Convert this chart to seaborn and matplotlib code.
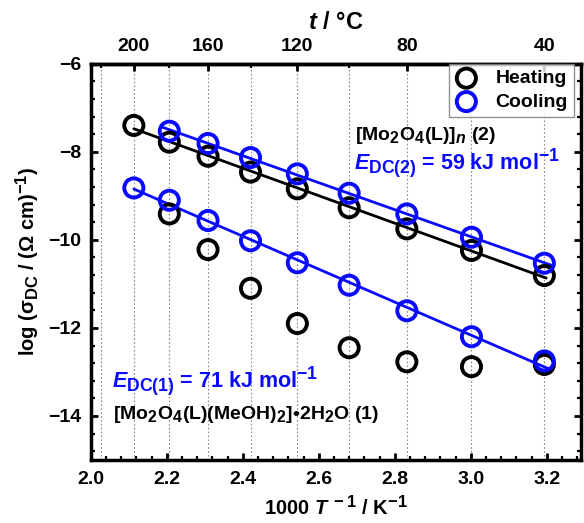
import numpy as np
import pandas as pd
import matplotlib
matplotlib.use("Agg")
import matplotlib.pyplot as plt
import matplotlib._mathtext as _mt
import seaborn as sns
from matplotlib.ticker import MultipleLocator, FixedLocator, NullFormatter

sns.set_style("ticks")
plt.rcParams['font.family'] = ['Liberation Sans', 'DejaVu Sans']
plt.rcParams['font.weight'] = 'bold'
plt.rcParams['axes.labelweight'] = 'bold'
for key in ['text.color', 'axes.labelcolor', 'xtick.color', 'ytick.color',
            'axes.edgecolor', 'xtick.labelcolor', 'ytick.labelcolor']:
    plt.rcParams[key] = 'black'
plt.rcParams['mathtext.fontset'] = 'custom'
plt.rcParams['mathtext.rm'] = 'Liberation Sans:bold'
plt.rcParams['mathtext.bf'] = 'Liberation Sans:bold'
plt.rcParams['mathtext.it'] = 'Liberation Sans:bold:italic'
plt.rcParams['mathtext.sf'] = 'Liberation Sans:bold'
plt.rcParams['mathtext.default'] = 'rm'
_mt.SHRINK_FACTOR = 0.82

# ---- data ----
temps_C = [200, 180, 160, 140, 120, 100, 80, 60, 40]
grid_temps_C = [220, 200, 180, 160, 140, 120, 100, 80, 60, 40]

# first heating (compound 1, transforms at 200 C)
heating1 = [-7.40, -9.41, -10.22, -11.10, -11.90, -12.45, -12.77, -12.88, -12.83]
# second heating (compound 2), 180 .. 40 C
heating2 = [-7.78, -8.10, -8.46, -8.84, -9.27, -9.75, -10.24, -10.81]
# cooling of compound 2, 180 .. 40 C
cooling2 = [-7.53, -7.81, -8.13, -8.50, -8.94, -9.41, -9.94, -10.53]
# cooling of compound 1, 200 .. 40 C
cooling1 = [-8.82, -9.10, -9.56, -10.02, -10.52, -11.03, -11.61, -12.20, -12.75]

x_ticks_top = [200, 160, 120, 80, 40]
x_ticks_top_minor = [220, 180, 140, 100, 60]


def inv_T(t):
    return 1000.0 / (np.asarray(t, dtype=float) + 273.15)


def to_C(x):
    x = np.asarray(x, dtype=float)
    with np.errstate(divide='ignore'):
        return 1000.0 / x - 273.15


x_all = inv_T(temps_C)
x_sub = inv_T(temps_C[1:])

df_h1 = pd.DataFrame({'x': x_all, 'y': heating1})
df_h2 = pd.DataFrame({'x': x_sub, 'y': heating2})
df_c2 = pd.DataFrame({'x': x_sub, 'y': cooling2})
df_c1 = pd.DataFrame({'x': x_all, 'y': cooling1})

BLUE = '#0a0aff'

fig = plt.figure(figsize=(5.84, 5.23), dpi=100)
ax = fig.add_axes([0.1553, 0.1205, 0.8397, 0.7575])

# vertical dotted grid at every 20 C
for t in grid_temps_C:
    ax.axvline(inv_T(t), color='#888888', lw=0.8, ls=(0, (1.5, 2)), zorder=0)

# fit lines
def fit_line(xs, ys, x0, x1, color):
    p = np.polyfit(xs, ys, 1)
    xx = np.array([x0, x1])
    sns.lineplot(x=xx, y=np.polyval(p, xx), color=color, lw=2.0, ax=ax, zorder=2)

black_x = np.concatenate([[x_all[0]], x_sub])
black_y = np.concatenate([[heating1[0]], heating2])
fit_line(black_x, black_y, x_all[0], x_all[-1] + 0.005, 'black')
fit_line(x_sub, cooling2, x_sub[0] - 0.02, x_sub[-1] + 0.02, BLUE)
fit_line(x_all, cooling1, x_all[0], x_all[-1] + 0.015, BLUE)

kw = dict(marker='o', s=190, facecolor='none', linewidth=2.8, ax=ax, zorder=3)
sns.scatterplot(data=df_h1, x='x', y='y', edgecolor='black', label='Heating', **kw)
sns.scatterplot(data=df_h2, x='x', y='y', edgecolor='black', **kw)
sns.scatterplot(data=df_c2, x='x', y='y', edgecolor=BLUE, label='Cooling', **kw)
sns.scatterplot(data=df_c1, x='x', y='y', edgecolor=BLUE, **kw)

ax.set_xlim(2.0, 3.29)
ax.set_ylim(-15, -6)
ax.xaxis.set_major_locator(MultipleLocator(0.2))
ax.xaxis.set_minor_locator(MultipleLocator(0.04))
ax.yaxis.set_major_locator(MultipleLocator(2))
ax.yaxis.set_minor_locator(MultipleLocator(0.4))
ax.xaxis.set_major_formatter(matplotlib.ticker.FormatStrFormatter('%.1f'))

ax.tick_params(which='both', direction='in', top=False, right=True, labelsize=14,
               color='black', labelcolor='black')
ax.tick_params(which='major', length=5, width=2)
ax.tick_params(which='minor', length=3, width=1.6)
ax.tick_params(axis='x', which='major', pad=8)
ax.tick_params(axis='y', which='major', pad=7)
for s in ax.spines.values():
    s.set_linewidth(2.5)
    s.set_color('black')
    s.set_visible(True)

ax.set_xlabel('1000 $\\mathit{T}^{\\,-1}$ / K$^{-1}$', fontsize=14.5, labelpad=5,
              fontweight='bold', color='black')
ax.set_ylabel('log (σ$_{\\mathrm{DC}}$ / (Ω cm)$^{-1}$)', fontsize=14.5, labelpad=4,
              fontweight='bold', color='black')

sec = ax.secondary_xaxis('top', functions=(to_C, inv_T))
sec.xaxis.set_major_locator(FixedLocator(x_ticks_top))
sec.xaxis.set_minor_locator(FixedLocator(x_ticks_top_minor))
sec.xaxis.set_minor_formatter(NullFormatter())
sec.tick_params(which='both', direction='in', labelsize=14, color='black',
                labelcolor='black')
sec.tick_params(which='major', length=5, width=2, pad=6)
sec.tick_params(which='minor', length=3, width=1.6)
sec.spines['top'].set_linewidth(2.5)
sec.spines['top'].set_color('black')
sec.set_xlabel('$\\mathit{t}$ / °C', fontsize=17, labelpad=7, fontweight='bold',
               color='black')

fig.canvas.draw()
for lbl in ax.get_xticklabels() + ax.get_yticklabels() + sec.get_xticklabels():
    lbl.set_fontweight('bold')

ax.text(2.695, -7.63, '[Mo$_2$O$_4$(L)]$_{\\mathit{n}}$ (2)', fontsize=14,
        color='black', va='center', ha='left')
ax.text(2.693, -8.25, '$\\mathit{E}_{\\mathrm{DC(2)}}$ = 59 kJ mol$^{-1}$', fontsize=15.5,
        color=BLUE, va='center', ha='left')
ax.text(2.057, -13.22, '$\\mathit{E}_{\\mathrm{DC(1)}}$ = 71 kJ mol$^{-1}$', fontsize=15.5,
        color=BLUE, va='center', ha='left')
ax.text(2.059, -13.96, '[Mo$_2$O$_4$(L)(MeOH)$_2$]•2H$_2$O (1)', fontsize=14,
        color='black', va='center', ha='left')

leg = ax.legend(loc='upper right', bbox_to_anchor=(0.985, 1.0), borderaxespad=0,
                fontsize=14, frameon=True, fancybox=False, handletextpad=0.9,
                borderpad=0.3, labelspacing=0.3, handlelength=1.2)
leg.get_frame().set_edgecolor('#777777')
leg.get_frame().set_linewidth(1.0)
for txt in leg.get_texts():
    txt.set_fontweight('bold')
    txt.set_color('black')

fig.savefig('out.png', dpi=100)
